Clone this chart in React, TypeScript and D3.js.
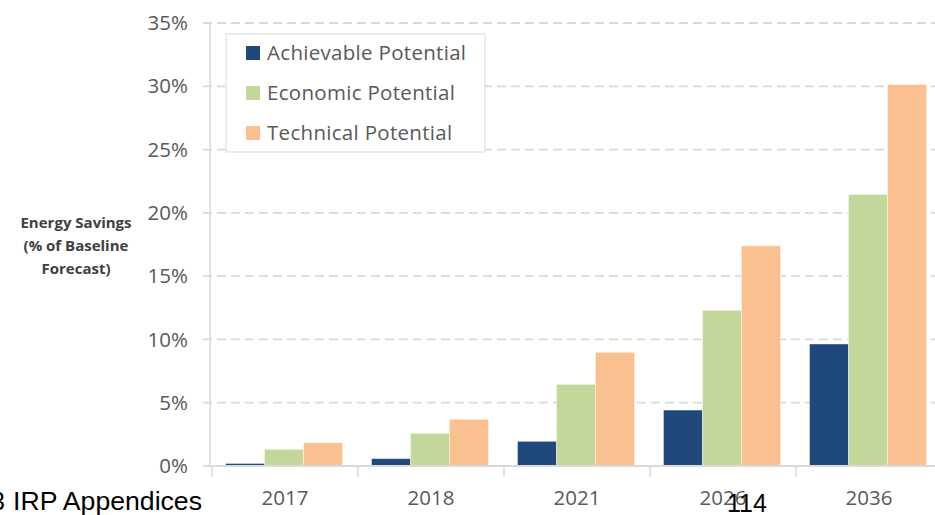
import React from "react";
import * as d3 from "d3";

// data
const years = ["2017", "2018", "2021", "2026", "2036"];
const seriesNames = ["Achievable Potential", "Economic Potential", "Technical Potential"];
const achievable = [0.2, 0.58, 1.95, 4.42, 9.64];
const economic = [1.32, 2.58, 6.45, 12.3, 21.45];
const technical = [1.84, 3.69, 8.98, 17.4, 30.15];
const yTicks = [0, 5, 10, 15, 20, 25, 30, 35];
const colors = ["#1F497D", "#C4D79B", "#FAC090"];

const App = () => {
  // setting canvas
  const width = 935;
  const height = 515;
  const plot = { left: 211, top: 23, bottom: 466, right: 941 };
  const font = "'Open Sans', sans-serif";
  const textColor = "#595959";
  const gridColor = "#D9D9D9";
  const footFont = "'Liberation Sans', Arial, sans-serif";

  const values = [achievable, economic, technical];

  const x = d3.scaleBand().domain(years).range([plot.left, plot.right]).padding(0);
  const xInner = d3
    .scaleBand()
    .domain(seriesNames)
    .range([0, x.bandwidth()])
    .paddingInner(0)
    .paddingOuter(0.372);
  const y = d3.scaleLinear().domain([0, 35]).range([plot.bottom, plot.top]);

  return (
    <svg
      width={width}
      height={height}
      style={{ position: "absolute", left: 0, top: 0, background: "#fff" }}
    >
      {/* gridlines */}
      {yTicks.map((t) => (
        <g key={t}>
          {t > 0 && (
            <line
              x1={plot.left - 8}
              x2={width}
              y1={y(t)}
              y2={y(t)}
              stroke={gridColor}
              strokeWidth={1.8}
              strokeDasharray="9,5"
            />
          )}
          <text
            x={188}
            y={y(t)}
            dy="0.35em"
            textAnchor="end"
            fontFamily={font}
            fontSize={20.5}
            fill={textColor}
          >
            {t + "%"}
          </text>
        </g>
      ))}

      {/* y axis line */}
      <line x1={plot.left - 1} x2={plot.left - 1} y1={plot.top} y2={plot.bottom} stroke={gridColor} strokeWidth={1.5} />

      {/* bars */}
      {values.map((vals, si) => (
        <g key={si}>
          {years.map((yr, i) => (
            <rect
              key={yr}
              x={(x(yr) as number) + (xInner(seriesNames[si]) as number)}
              y={y(vals[i])}
              width={xInner.bandwidth()}
              height={y(0) - y(vals[i])}
              fill={colors[si]}
              stroke="#ffffff"
              strokeOpacity={0.5}
              strokeWidth={0.8}
            />
          ))}
        </g>
      ))}

      {/* x axis */}
      <line x1={plot.left - 8} x2={width} y1={plot.bottom} y2={plot.bottom} stroke={gridColor} strokeWidth={1.8} />
      {years.map((yr) => (
        <line
          key={"t" + yr}
          x1={(x(yr) as number) + 1}
          x2={(x(yr) as number) + 1}
          y1={plot.bottom}
          y2={plot.bottom + 11}
          stroke={gridColor}
          strokeWidth={1.5}
        />
      ))}
      {years.map((yr) => (
        <text
          key={"l" + yr}
          x={(x(yr) as number) + x.bandwidth() / 2 + 1}
          y={505}
          textAnchor="middle"
          fontFamily={font}
          fontSize={20.5}
          fill={textColor}
        >
          {yr}
        </text>
      ))}

      {/* y axis title */}
      <text fontFamily={font} fontWeight="bold" fontSize={15} fill="#404040" textAnchor="middle">
        <tspan x={76} y={228}>Energy Savings</tspan>
        <tspan x={76} y={251}>(% of Baseline</tspan>
        <tspan x={76} y={274}>Forecast)</tspan>
      </text>

      {/* legend */}
      <rect x={226} y={34} width={259} height={118} fill="#fff" stroke={gridColor} strokeWidth={1} />
      {seriesNames.map((s, i) => (
        <g key={s} transform={`translate(246, ${53 + i * 40})`}>
          <rect x={0} y={-7} width={14} height={14} fill={colors[i]} />
          <text x={21} y={0} dy="0.35em" fontFamily={font} fontSize={20.5} letterSpacing={0.3} fill={textColor}>
            {s}
          </text>
        </g>
      ))}

      {/* page footer */}
      <text x={5} y={510} textAnchor="end" fontFamily={footFont} fontSize={25} fill="#000">
        2013
      </text>
      <text x={13} y={510} fontFamily={footFont} fontSize={25} textLength={189} lengthAdjust="spacingAndGlyphs" fill="#000">
        IRP Appendices
      </text>
      <text x={727} y={512} fontFamily={footFont} fontSize={25} fill="#000">
        114
      </text>
    </svg>
  );
};

export default App;
